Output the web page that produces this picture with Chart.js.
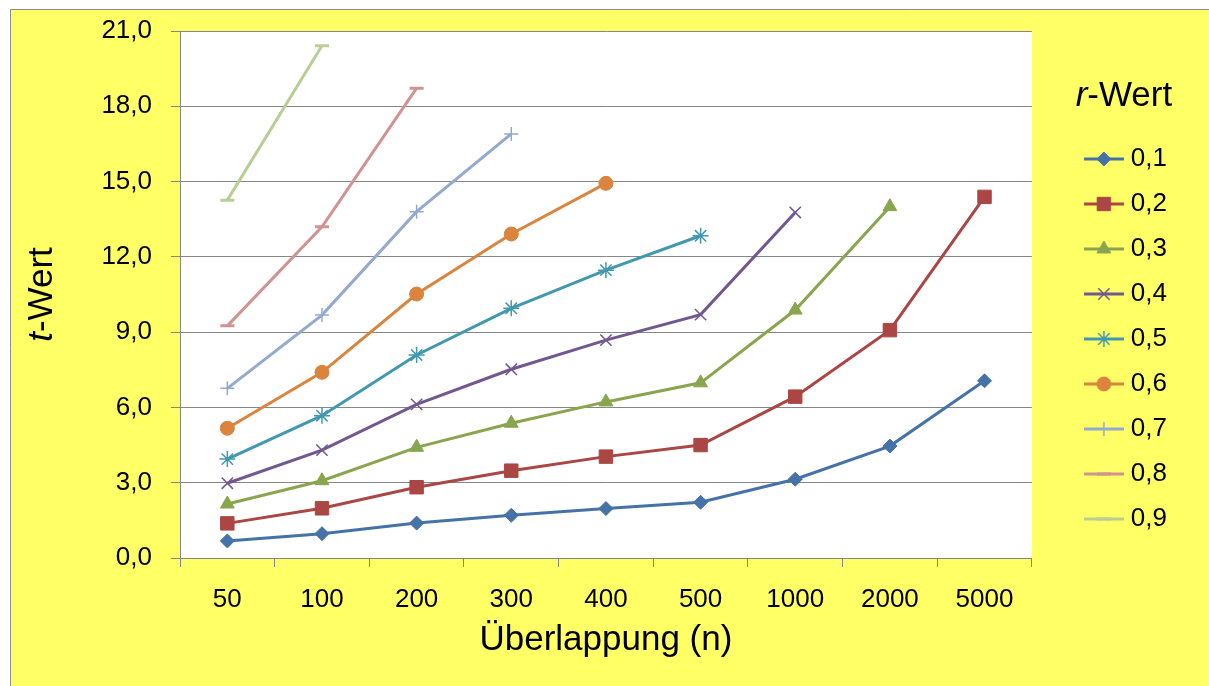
<!DOCTYPE html>
<html>
<head>
<meta charset="utf-8">
<script src="https://cdn.jsdelivr.net/npm/chart.js@4.4.1/dist/chart.umd.min.js"></script>
<style>
  html, body { margin: 0; padding: 0; background: #ffffff; }
  #wrap { width: 1209px; height: 686px; }
</style>
</head>
<body>
<div id="wrap"><canvas id="c" width="1209" height="686"></canvas></div>
<script>
// ---- data ----
const categories = ['50', '100', '200', '300', '400', '500', '1000', '2000', '5000'];
const seriesNames = ['0,1', '0,2', '0,3', '0,4', '0,5', '0,6', '0,7', '0,8', '0,9'];
const r01 = [0.68, 0.97, 1.39, 1.70, 1.97, 2.22, 3.14, 4.46, 7.06];
const r02 = [1.38, 1.98, 2.82, 3.48, 4.04, 4.50, 6.43, 9.08, 14.39];
const r03 = [2.15, 3.08, 4.41, 5.37, 6.22, 6.98, 9.88, 14.00, null];
const r04 = [2.98, 4.30, 6.12, 7.52, 8.68, 9.70, 13.77, null, null];
const r05 = [3.94, 5.67, 8.09, 9.95, 11.47, 12.84, null, null, null];
const r06 = [5.17, 7.40, 10.52, 12.91, 14.93, null, null, null, null];
const r07 = [6.76, 9.68, 13.80, 16.90, null, null, null, null, null];
const r08 = [9.25, 13.20, 18.72, null, null, null, null, null, null];
const r09 = [14.26, 20.41, null, null, null, null, null, null, null];
const yTicks = [0, 3, 6, 9, 12, 15, 18, 21];

// ---- styles ----
const colors = ['#4572A7', '#AA4643', '#89A54E', '#71588F', '#4198AF', '#DB843D', '#93A9CF', '#D19392', '#B9CD96'];
const markers = ['rectRot', 'rect', 'triangle', 'crossRot', 'star', 'circle', 'cross', 'line', 'line'];
const radii = [7, 9.5, 8, 8, 8, 7, 7, 7, 7];
const markerBorder = [1, 1, 1, 1.5, 1.5, 1, 1.5, 3, 3];
const allSeries = [r01, r02, r03, r04, r05, r06, r07, r08, r09];
const FONT = "'Liberation Sans', Arial, sans-serif";
const GRID = '#868686';
const TITLE_SIZE = 35;

// legend icons: line + marker
function drawMarker(ctx, style, r, x, y) {
  ctx.beginPath();
  const s = Math.SQRT1_2 * r;
  switch (style) {
    case 'rectRot':
      ctx.moveTo(x, y - r); ctx.lineTo(x + r, y); ctx.lineTo(x, y + r); ctx.lineTo(x - r, y); ctx.closePath();
      ctx.fill(); ctx.stroke(); break;
    case 'rect':
      ctx.rect(x - s, y - s, 2 * s, 2 * s); ctx.fill(); ctx.stroke(); break;
    case 'triangle': {
      const w = r * Math.sqrt(3) / 2;
      ctx.moveTo(x, y - r); ctx.lineTo(x + w, y + r / 2); ctx.lineTo(x - w, y + r / 2); ctx.closePath();
      ctx.fill(); ctx.stroke(); break;
    }
    case 'circle':
      ctx.arc(x, y, r, 0, Math.PI * 2); ctx.fill(); ctx.stroke(); break;
    case 'crossRot':
      ctx.moveTo(x - s, y - s); ctx.lineTo(x + s, y + s); ctx.moveTo(x - s, y + s); ctx.lineTo(x + s, y - s); ctx.stroke(); break;
    case 'cross':
      ctx.moveTo(x - r, y); ctx.lineTo(x + r, y); ctx.moveTo(x, y - r); ctx.lineTo(x, y + r); ctx.stroke(); break;
    case 'star':
      ctx.moveTo(x - s, y - s); ctx.lineTo(x + s, y + s); ctx.moveTo(x - s, y + s); ctx.lineTo(x + s, y - s);
      ctx.moveTo(x - r, y); ctx.lineTo(x + r, y); ctx.moveTo(x, y - r); ctx.lineTo(x, y + r); ctx.stroke(); break;
    case 'line':
      ctx.moveTo(x - r, y); ctx.lineTo(x + r, y); ctx.stroke(); break;
  }
}
const legendIcons = colors.map((col, i) => {
  const cv = document.createElement('canvas');
  cv.width = 40; cv.height = 20;
  const g = cv.getContext('2d');
  g.strokeStyle = col; g.lineWidth = 3; g.lineCap = 'butt';
  g.beginPath(); g.moveTo(0, 10); g.lineTo(40, 10); g.stroke();
  g.fillStyle = col; g.strokeStyle = col; g.lineWidth = markerBorder[i];
  drawMarker(g, markers[i], radii[i], 20, 10);
  return cv;
});

const datasets = allSeries.map((d, i) => ({
  label: seriesNames[i],
  data: d,
  borderColor: colors[i],
  backgroundColor: colors[i],
  borderWidth: 3,
  tension: 0,
  pointStyle: markers[i],
  pointRadius: radii[i],
  pointHoverRadius: radii[i],
  pointBorderWidth: markerBorder[i],
  pointBackgroundColor: colors[i],
  pointBorderColor: colors[i],
  spanGaps: false
}));

const bgPlugin = {
  id: 'bg',
  beforeDraw(chart) {
    const ctx = chart.ctx, a = chart.chartArea;
    ctx.save();
    ctx.fillStyle = '#ffffff';
    ctx.fillRect(0, 0, chart.width, chart.height);
    ctx.fillStyle = '#FFFF66';
    ctx.fillRect(10, 9, chart.width - 10, chart.height - 9);
    ctx.strokeStyle = '#8c8c8c'; ctx.lineWidth = 1;
    ctx.beginPath();
    ctx.moveTo(10.5, chart.height); ctx.lineTo(10.5, 9.5); ctx.lineTo(chart.width, 9.5);
    ctx.stroke();
    ctx.fillStyle = '#ffffff';
    ctx.fillRect(a.left, a.top, a.right - a.left, a.bottom - a.top);
    ctx.restore();
  },
  afterDraw(chart) {
    const ctx = chart.ctx, a = chart.chartArea;
    function mixed(italicPart, normalPart, x, y, rot) {
      ctx.save();
      ctx.translate(x, y);
      ctx.rotate(rot);
      ctx.fillStyle = '#000';
      ctx.textBaseline = 'middle';
      ctx.textAlign = 'left';
      const fi = 'italic ' + TITLE_SIZE + 'px ' + FONT, fn = TITLE_SIZE + 'px ' + FONT;
      ctx.font = fi; const w1 = ctx.measureText(italicPart).width;
      ctx.font = fn; const w2 = ctx.measureText(normalPart).width;
      const x0 = -(w1 + w2) / 2;
      ctx.font = fi; ctx.fillText(italicPart, x0, 0);
      ctx.font = fn; ctx.fillText(normalPart, x0 + w1, 0);
      ctx.restore();
    }
    const lh = TITLE_SIZE * 1.2;
    // y axis title
    const ys = chart.scales.y;
    mixed('t', '-Wert', ys.left + 11 + lh / 2, (a.top + a.bottom) / 2, -Math.PI / 2);
    // legend title
    const lg = chart.legend;
    mixed('r', '-Wert', (lg.left + lg.right) / 2, lg.top + 44 + lh / 2, 0);
  }
};

new Chart(document.getElementById('c'), {
  type: 'line',
  data: { labels: categories, datasets: datasets },
  options: {
    responsive: false,
    animation: false,
    devicePixelRatio: 1,
    layout: { padding: { left: 10, top: 31, right: 32, bottom: 21 } },
    plugins: {
      tooltip: { enabled: false },
      legend: {
        position: 'right',
        align: 'start',
        title: {
          display: true,
          text: 'r-Wert',
          color: 'rgba(0,0,0,0)',
          font: { family: FONT, size: TITLE_SIZE },
          padding: { top: 44, bottom: 10 }
        },
        labels: {
          color: '#000',
          font: { family: FONT, size: 26 },
          padding: 19,
          usePointStyle: true,
          pointStyleWidth: 28,
          generateLabels(chart) {
            const items = Chart.defaults.plugins.legend.labels.generateLabels(chart);
            items.forEach((it, i) => { it.pointStyle = legendIcons[i]; it.fontColor = '#000'; });
            return items;
          }
        }
      }
    },
    scales: {
      x: {
        offset: true,
        grid: { display: true, drawOnChartArea: false, drawTicks: true, tickLength: 9, offset: true, color: GRID },
        border: { display: true, color: GRID, width: 1 },
        ticks: { color: '#000', font: { family: FONT, size: 26 }, padding: 17, maxRotation: 0, autoSkip: false },
        title: { display: true, text: 'Überlappung (n)', color: '#000', font: { family: FONT, size: TITLE_SIZE }, padding: { top: 0, bottom: 4 } },
        afterFit(s) { s.height = 107; s.paddingLeft = 0; s.paddingRight = 0; }
      },
      y: {
        min: 0,
        max: 21,
        afterBuildTicks(s) { s.ticks = yTicks.map(v => ({ value: v })); },
        grid: { color: GRID, tickLength: 9, drawTicks: true },
        border: { display: true, color: GRID, width: 1 },
        ticks: {
          color: '#000',
          font: { family: FONT, size: 26 },
          padding: 19,
          callback: (v) => Number(v).toFixed(1).replace('.', ',')
        },
        title: { display: true, text: 't-Wert', color: 'rgba(0,0,0,0)', font: { family: FONT, size: TITLE_SIZE }, padding: { top: 11, bottom: 4 } },
        afterFit(s) { s.width = 170; s.paddingTop = 0; s.paddingBottom = 0; }
      },
      yGap: {
        position: 'right',
        display: true,
        grid: { display: false, drawTicks: false },
        border: { display: false },
        ticks: { display: false },
        afterFit(s) { s.width = 39; s.paddingTop = 0; s.paddingBottom = 0; }
      }
    }
  },
  plugins: [bgPlugin]
});
</script>
</body>
</html>
